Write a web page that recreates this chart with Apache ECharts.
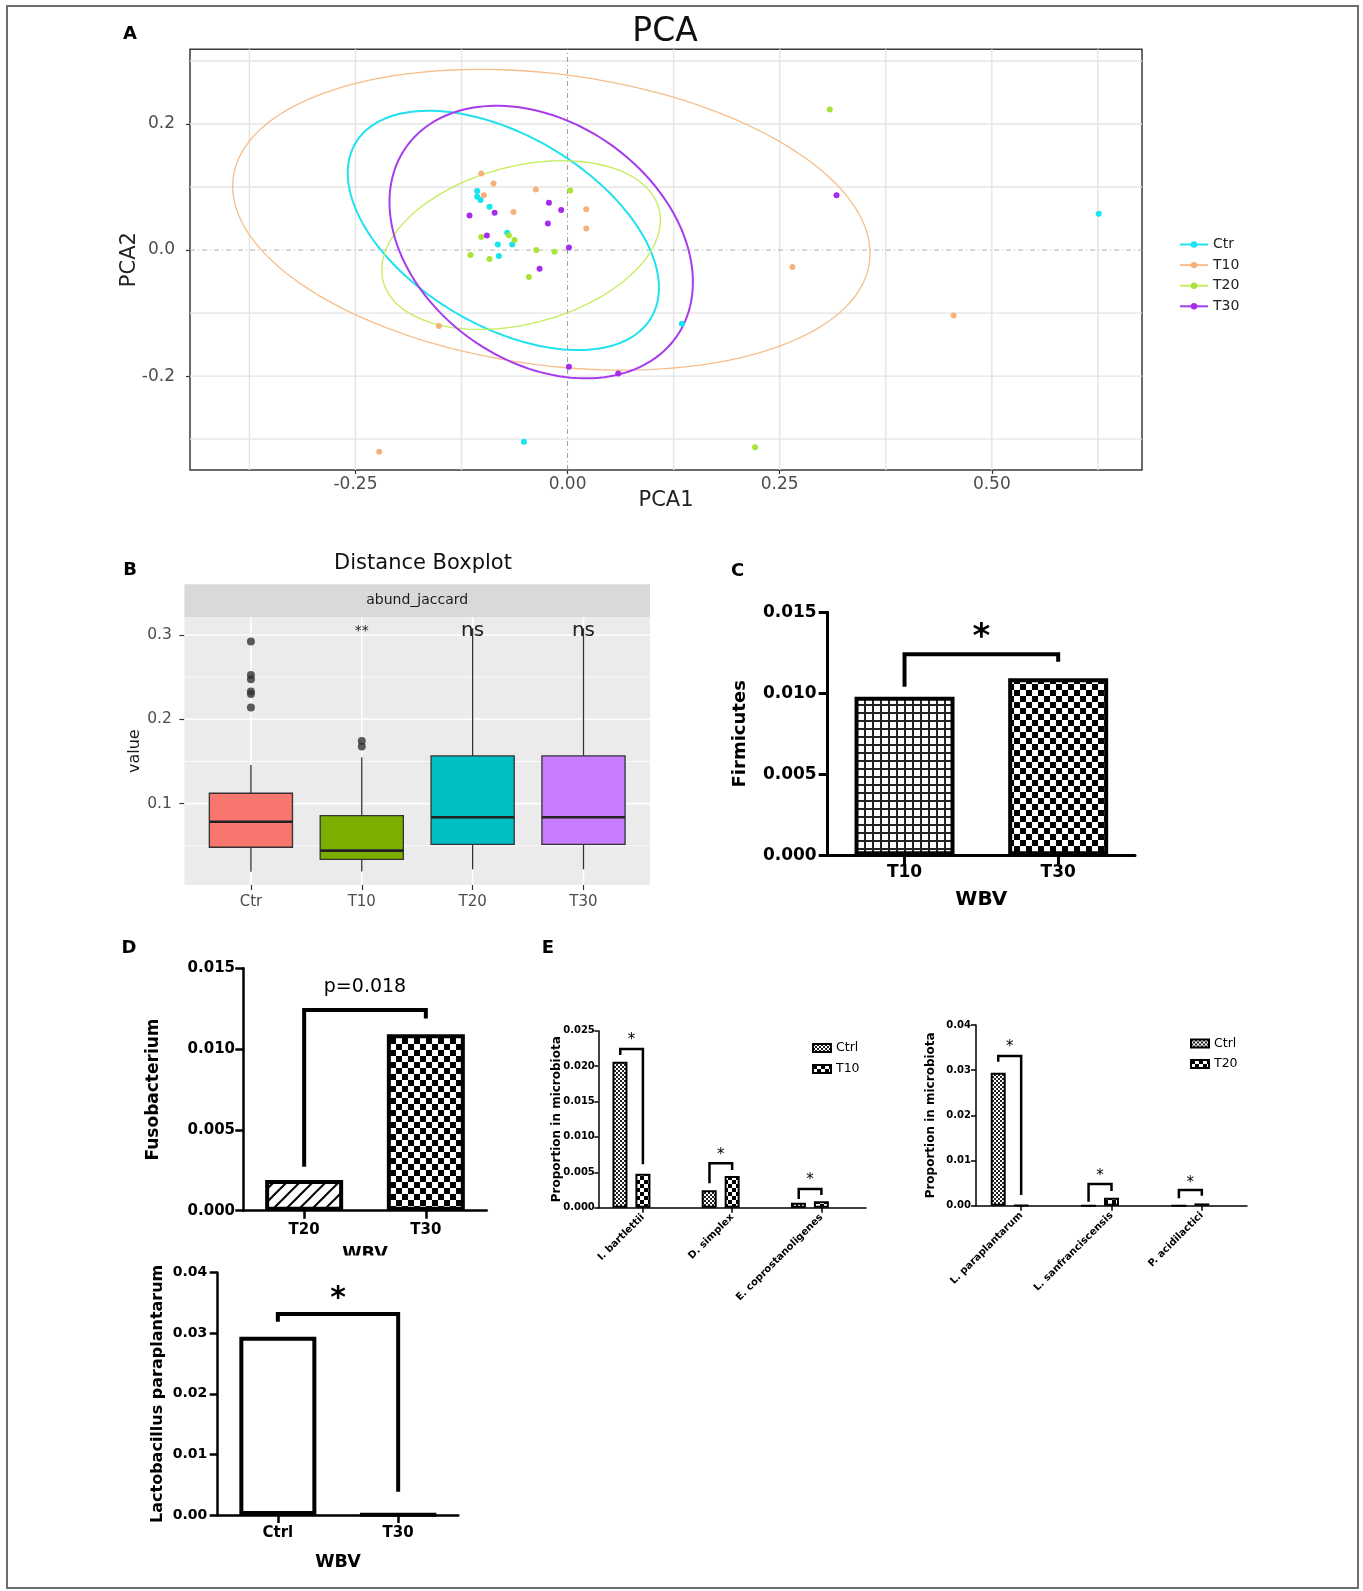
<!DOCTYPE html>
<html><head><meta charset="utf-8">
<script src="https://cdn.jsdelivr.net/npm/echarts@6/dist/echarts.min.js"></script>
<style>html,body{margin:0;padding:0;background:#fff}#chart{width:1363px;height:1591px}</style>
</head><body><div id="chart"></div>
<script>
// ================= DATA =================
// Panel A : PCA
const pcaGroups = ['Ctr', 'T10', 'T20', 'T30'];
const pcaCtr = [[-0.1065,0.0937],[-0.1065,0.0847],[-0.1026,0.0794],[-0.092,0.0688],[-0.0712,0.0275],[-0.0822,0.009],[-0.0652,0.009],[-0.081,-0.0095],[-0.0515,-0.304],[0.1347,-0.117],[0.626,0.0577]];
const pcaT10 = [[-0.1018,0.1217],[-0.0873,0.1058],[-0.0987,0.0868],[-0.0374,0.0963],[-0.0637,0.0603],[0.022,0.0646],[0.022,0.0344],[-0.1517,-0.1206],[-0.222,-0.32],[0.265,-0.027],[0.455,-0.104]];
const pcaT20 = [[0.0031,0.0947],[-0.1018,0.0206],[-0.0692,0.0233],[-0.0625,0.0159],[-0.0369,0.0],[-0.0153,-0.0026],[-0.1144,-0.0079],[-0.092,-0.0143],[-0.0456,-0.0429],[0.309,0.223],[0.221,-0.313]];
const pcaT30 = [[-0.022,0.0751],[-0.0075,0.0635],[-0.1156,0.055],[-0.086,0.0593],[-0.0232,0.0423],[-0.0951,0.0233],[0.0016,0.0042],[-0.033,-0.0296],[0.0016,-0.185],[0.0597,-0.196],[0.317,0.087]];
const pcaXRange = [-0.445, 0.677];
const pcaYRange = [-0.349, 0.3186];
const pcaXTicks = [-0.25, 0, 0.25, 0.5];
const pcaYTicks = [-0.2, 0, 0.2];
const pcaXGrid = [-0.375, -0.25, -0.125, 0.125, 0.25, 0.375, 0.5, 0.625];
const pcaYGrid = [-0.3, -0.2, -0.1, 0.1, 0.2, 0.3];
// confidence ellipses (center, half extents, correlation term) per group
const ellipseCx = [-0.0757, -0.0191, -0.0548, -0.0311];
const ellipseCy = [0.0312, 0.0481, 0.0079, 0.0127];
const ellipseHalfW = [0.1834, 0.3756, 0.1642, 0.1788];
const ellipseHalfH = [0.1899, 0.2386, 0.1338, 0.2163];
const ellipseCos = [-0.48, -0.2235, 0.2967, -0.2935];

// Panel B : Distance boxplot
const boxCats = ['Ctr', 'T10', 'T20', 'T30'];
const boxLow = [0.0193, 0.0194, 0.0221, 0.0221];
const boxQ1 = [0.0483, 0.034, 0.0518, 0.0518];
const boxMedian = [0.0786, 0.0443, 0.0838, 0.0838];
const boxQ3 = [0.1123, 0.0858, 0.1566, 0.1566];
const boxHigh = [0.1459, 0.155, 0.308, 0.308];
const boxOutliers = [[0,0.2922],[0,0.2527],[0,0.2476],[0,0.2329],[0,0.2301],[0,0.2139],[1,0.1744],[1,0.1677]];
const boxSignif = [[1, 0.3084, '**'], [2, 0.3028, 'ns'], [3, 0.3028, 'ns']];
const boxYRange = [0.0035, 0.321];
const boxYTicks = [0.1, 0.2, 0.3];
const boxYMinor = [0.05, 0.15, 0.25];

// Panel C : Firmicutes
const cCats = ['T10', 'T30'];
const cValues = [0.00979, 0.01093];
const cBrackets = [[0, 0.01041, 0.01241, 1, 0.01195]];
const cMarks = [[0.5, 0.0139, '*']];

// Panel D : Fusobacterium
const dCats = ['T20', 'T30'];
const dValues = [0.0019, 0.01092];
const dBrackets = [[0, 0.00272, 0.01242, 1, 0.0119]];
const dMarks = [[0.5, 0.01386, 'p=0.018']];

// Panel D (lower) : Lactobacillus paraplantarum
const lCats = ['Ctrl', 'T30'];
const lValues = [0.02943, 0.0001];
const lBrackets = [[0, 0.0319, 0.0332, 1, 0.00385]];
const lMarks = [[0.5, 0.03686, '*']];

// Panel E left
const eLeftCats = ['I. bartlettii', 'D. simplex', 'E. coprostanoligenes'];
const eLeftCtrl = [0.02062, 0.00246, 0.0007];
const eLeftT10 = [0.0048, 0.00448, 0.0009];
const eLeftBrackets = [[-0.254, 0.02157, 0.02242, 0, 0.00613], [0.746, 0.00345, 0.00627, 1, 0.00532], [1.746, 0.00123, 0.00264, 2, 0.00179]];
const eLeftMarks = [[-0.127, 0.02415, '*'], [0.873, 0.0079, '*'], [1.873, 0.00438, '*']];

// Panel E right
const eRightCats = ['L. paraplantarum', 'L. sanfranciscensis', 'P. acidilactici'];
const eRightCtrl = [0.02942, 0, 0];
const eRightT20 = [0.0001, 0.00177, 0.0005];
const eRightBrackets = [[-0.254, 0.03186, 0.03312, 0, 0.00237], [0.746, 0.00088, 0.0048, 1, 0.00325], [1.746, 0.00164, 0.00347, 2, 0.00221]];
const eRightMarks = [[-0.127, 0.03593, '*'], [0.873, 0.00739, '*'], [1.873, 0.0059, '*']];

// ================= STYLES / HELPERS =================
const FONT = 'DejaVu Sans';
const pcaColors = ['#16E4EE', '#F6B27C', '#A8E436', '#A52BEE'];
const ellipseColors = ['#1FE2EE', '#F5BE8C', '#C2EC5A', '#A63CEB'];
const ellipseWidths = [2, 1.3, 1.3, 2];
const boxColors = ['#F8766D', '#7CAE00', '#00BFC4', '#C77CFF'];

function makePattern(size, draw) {
  const c = document.createElement('canvas');
  c.width = size; c.height = size;
  const ctx = c.getContext('2d');
  ctx.fillStyle = '#fff'; ctx.fillRect(0, 0, size, size);
  ctx.fillStyle = '#000'; ctx.strokeStyle = '#000';
  draw(ctx, size);
  return { image: c, repeat: 'repeat' };
}
const gridPat = makePattern(8, (ctx) => { ctx.fillStyle = '#222'; ctx.fillRect(0, 0, 8, 2); ctx.fillRect(0, 0, 2, 8); });
const checkPat = makePattern(12, (ctx) => { ctx.fillRect(0, 0, 6, 6); ctx.fillRect(6, 6, 6, 6); });
const hatchPat = makePattern(13, (ctx) => {
  ctx.lineWidth = 2;
  ctx.beginPath(); ctx.moveTo(-1, 14); ctx.lineTo(14, -1); ctx.stroke();
  ctx.beginPath(); ctx.moveTo(-2, 2); ctx.lineTo(2, -2); ctx.stroke();
  ctx.beginPath(); ctx.moveTo(11, 15); ctx.lineTo(15, 11); ctx.stroke();
});
const fineDotPat = makePattern(4, (ctx) => { ctx.fillStyle = '#222'; ctx.fillRect(0, 0, 2, 2); ctx.fillRect(2, 2, 2, 2); });
const smallCheckPat = makePattern(8, (ctx) => { ctx.fillRect(0, 0, 4, 4); ctx.fillRect(4, 4, 4, 4); });

function ellipsePoints(k) {
  const pts = [];
  const phi = Math.acos(ellipseCos[k]);
  for (let j = 0; j <= 160; j++) {
    const t = 2 * Math.PI * j / 160;
    pts.push([ellipseCx[k] + ellipseHalfW[k] * Math.cos(t), ellipseCy[k] + ellipseHalfH[k] * Math.cos(t - phi)]);
  }
  return pts;
}
function segLine(ax, p1, p2, lineStyle, z) {
  return { type: 'line', xAxisIndex: ax, yAxisIndex: ax, data: [p1, p2], symbol: 'none', silent: true, z: z,
           lineStyle: lineStyle, animation: false, emphasis: { disabled: true } };
}
function bracketSeries(ax, list, lw) {
  return {
    type: 'custom', xAxisIndex: ax, yAxisIndex: ax, silent: true, z: 6, clip: false,
    data: list.map(b => [0, b[2]]),
    renderItem: (params, api) => {
      const b = list[params.dataIndex];
      const o = api.coord([0, 0]);
      const unit = api.size([1, 0], [0, 0])[0];
      const xL = o[0] + b[0] * unit, xR = o[0] + b[3] * unit;
      const yL = api.coord([0, b[1]])[1], yT = api.coord([0, b[2]])[1], yR = api.coord([0, b[4]])[1];
      return { type: 'polyline', shape: { points: [[xL, yL], [xL, yT], [xR, yT], [xR, yR]] },
               style: { stroke: '#000', lineWidth: lw, fill: null, lineJoin: 'miter', lineCap: 'butt' } };
    }
  };
}
function textSeries(ax, list, size, weight, color) {
  return {
    type: 'custom', xAxisIndex: ax, yAxisIndex: ax, silent: true, z: 7, clip: false,
    data: list.map(m => [0, m[1]]),
    renderItem: (params, api) => {
      const m = list[params.dataIndex];
      const o = api.coord([0, m[1]]);
      const unit = api.size([1, 0], [0, m[1]])[0];
      const shift = /^\*+$/.test(m[2]) ? 0.25 : (/^[a-z]+$/.test(m[2]) ? -0.08 : 0);
      return { type: 'text', x: o[0] + m[0] * unit, y: o[1] + shift * size,
               style: { text: m[2], fontSize: size, fontWeight: weight, fontFamily: FONT, fill: color || '#000',
                        align: 'center', verticalAlign: 'middle', textAlign: 'center', textVerticalAlign: 'middle' } };
    }
  };
}
function gpYAxis(gi, max, interval, dec, lw, tickLen, fs, margin, name, nameSize, nameGap) {
  return { gridIndex: gi, type: 'value', min: 0, max: max, interval: interval,
    axisLine: { show: true, onZero: false, lineStyle: { color: '#000', width: lw } },
    axisTick: { show: true, length: tickLen, lineStyle: { color: '#000', width: lw } },
    axisLabel: { fontSize: fs, fontWeight: 'bold', color: '#000', fontFamily: FONT, margin: margin, formatter: v => v.toFixed(dec) },
    splitLine: { show: false },
    name: name, nameLocation: 'middle', nameGap: nameGap, nameMoveOverlap: false,
    nameTextStyle: { fontSize: nameSize, fontWeight: 'bold', color: '#000', fontFamily: FONT } };
}
function gpXAxis(gi, cats, lw, tickLen, fs, margin, name, nameSize, nameGap, rotate) {
  const ax = { gridIndex: gi, type: 'category', data: cats,
    axisLine: { show: true, onZero: false, lineStyle: { color: '#000', width: lw } },
    axisTick: { show: true, alignWithLabel: true, length: tickLen, lineStyle: { color: '#000', width: lw } },
    axisLabel: { fontSize: fs, fontWeight: 'bold', color: '#000', fontFamily: FONT, margin: margin, interval: 0, rotate: rotate || 0 },
    splitLine: { show: false } };
  if (name) {
    ax.name = name; ax.nameLocation = 'middle'; ax.nameGap = nameGap; ax.nameMoveOverlap = false;
    ax.nameTextStyle = { fontSize: nameSize, fontWeight: 'bold', color: '#000', fontFamily: FONT };
  }
  return ax;
}
function gtext(text, x, y, size, weight, color, z) {
  return { type: 'text', x: x, y: y, z: z || 10, silent: true,
    style: { text: text, fontSize: size, fontWeight: weight || 'normal', fontFamily: FONT, fill: color || '#000',
             align: 'center', verticalAlign: 'middle', textAlign: 'center', textVerticalAlign: 'middle' } };
}

// ================= OPTION =================
const pcaPoints = [pcaCtr, pcaT10, pcaT20, pcaT30];
const series = [];

// --- A: gridlines
pcaXGrid.forEach(x => series.push(segLine(0, [x, pcaYRange[0]], [x, pcaYRange[1]], { color: '#e4e4e4', width: 1.4 }, 1)));
pcaYGrid.forEach(y => series.push(segLine(0, [pcaXRange[0], y], [pcaXRange[1], y], { color: '#e4e4e4', width: 1.4 }, 1)));
series.push(segLine(0, [0, pcaYRange[0]], [0, pcaYRange[1]], { color: '#9a9a9a', width: 1, type: [5, 3, 1, 3] }, 1));
series.push(segLine(0, [pcaXRange[0], 0], [pcaXRange[1], 0], { color: '#b0b0b0', width: 1, type: [5, 3, 1, 3] }, 1));
// --- A: ellipses (first, so legend shows line + dot)
pcaGroups.forEach((g, k) => series.push({
  type: 'line', name: g, xAxisIndex: 0, yAxisIndex: 0, data: ellipsePoints(k), showSymbol: false,
  symbol: 'circle', symbolSize: 6, smooth: false, silent: true, z: 2, animation: false,
  itemStyle: { color: pcaColors[k] }, lineStyle: { color: ellipseColors[k], width: ellipseWidths[k] },
  emphasis: { disabled: true }
}));
// --- A: points
pcaGroups.forEach((g, k) => series.push({
  type: 'scatter', name: g, xAxisIndex: 0, yAxisIndex: 0, data: pcaPoints[k], symbolSize: 6,
  itemStyle: { color: pcaColors[k], opacity: 1 }, z: 3, silent: true, animation: false
}));

// --- B: gridlines
[0, 1, 2, 3].forEach(i => series.push(segLine(1, [i, boxYRange[0]], [i, boxYRange[1]], { color: '#fff', width: 1.6 }, 1)));
boxYTicks.forEach(v => series.push(segLine(1, [-0.6, v], [3.6, v], { color: '#fff', width: 1.6 }, 1)));
boxYMinor.forEach(v => series.push(segLine(1, [-0.6, v], [3.6, v], { color: '#fff', width: 0.8 }, 1)));
// --- B: boxes
series.push({
  type: 'custom', xAxisIndex: 1, yAxisIndex: 1, silent: true, z: 3, animation: false,
  data: boxCats.map((c, i) => [i, boxLow[i], boxQ1[i], boxMedian[i], boxQ3[i], boxHigh[i]]),
  encode: { x: 0, y: [1, 2, 3, 4, 5] },
  renderItem: (params, api) => {
    const i = api.value(0);
    const x = api.coord([i, api.value(3)])[0];
    const half = api.size([0.75, 0], [i, api.value(3)])[0] / 2;
    const y = k => api.coord([i, api.value(k)])[1];
    const yL = y(1), y1 = y(2), yM = y(3), y3 = y(4), yH = y(5);
    const ls = { stroke: '#333', lineWidth: 1.3 };
    return { type: 'group', children: [
      { type: 'line', shape: { x1: x, y1: yL, x2: x, y2: y1 }, style: ls },
      { type: 'line', shape: { x1: x, y1: y3, x2: x, y2: yH }, style: ls },
      { type: 'rect', shape: { x: x - half, y: y3, width: 2 * half, height: y1 - y3 }, style: { fill: boxColors[i], stroke: '#333', lineWidth: 1.3 } },
      { type: 'line', shape: { x1: x - half, y1: yM, x2: x + half, y2: yM }, style: { stroke: '#222', lineWidth: 2.6 } }
    ] };
  }
});
series.push({ type: 'scatter', xAxisIndex: 1, yAxisIndex: 1, data: boxOutliers, symbolSize: 8,
  itemStyle: { color: '#333' }, z: 4, silent: true, animation: false });
series.push(textSeries(1, boxSignif.filter(m => m[2] === '**'), 14, 'normal', '#222'));
series.push(textSeries(1, boxSignif.filter(m => m[2] !== '**'), 20, 'normal', '#222'));

// --- C
const cFills = [gridPat, checkPat];
series.push({ type: 'bar', xAxisIndex: 2, yAxisIndex: 2, barWidth: 100, silent: true, animation: false, z: 3,
  data: cValues.map((v, i) => ({ value: v, itemStyle: { color: cFills[i], borderColor: '#000', borderWidth: 4 } })) });
series.push(bracketSeries(2, cBrackets, 4));
series.push(textSeries(2, cMarks, 34, 'bold'));

// --- D
const dFills = [hatchPat, checkPat];
series.push({ type: 'bar', xAxisIndex: 3, yAxisIndex: 3, barWidth: 78, silent: true, animation: false, z: 3,
  data: dValues.map((v, i) => ({ value: v, itemStyle: { color: dFills[i], borderColor: '#000', borderWidth: 4 } })) });
series.push(bracketSeries(3, dBrackets, 4));
series.push(textSeries(3, dMarks, 19, 'normal'));

// --- D lower
series.push({ type: 'bar', xAxisIndex: 4, yAxisIndex: 4, barWidth: 77, silent: true, animation: false, z: 3,
  data: lValues.map(v => ({ value: v, itemStyle: { color: '#fff', borderColor: '#000', borderWidth: 4 } })) });
series.push(bracketSeries(4, lBrackets, 4));
series.push(textSeries(4, lMarks, 30, 'bold'));

// --- E left
series.push({ type: 'bar', name: 'EL Ctrl', xAxisIndex: 5, yAxisIndex: 5, barWidth: 15, barGap: '53%', data: eLeftCtrl,
  itemStyle: { color: fineDotPat, borderColor: '#000', borderWidth: 2 }, silent: true, animation: false, z: 3 });
series.push({ type: 'bar', name: 'EL T10', xAxisIndex: 5, yAxisIndex: 5, barWidth: 15, barGap: '53%', data: eLeftT10,
  itemStyle: { color: smallCheckPat, borderColor: '#000', borderWidth: 2 }, silent: true, animation: false, z: 3 });
series.push({ type: 'bar', name: 'EL spacer', xAxisIndex: 5, yAxisIndex: 5, barWidth: 15, barGap: '53%', data: eLeftCats.map(() => 0),
  itemStyle: { color: 'rgba(0,0,0,0)', borderWidth: 0 }, silent: true, animation: false, z: 3 });
series.push(bracketSeries(5, eLeftBrackets, 2.5));
series.push(textSeries(5, eLeftMarks, 15, 'normal'));

// --- E right
series.push({ type: 'bar', name: 'ER Ctrl', xAxisIndex: 6, yAxisIndex: 6, barWidth: 15, barGap: '53%', data: eRightCtrl,
  itemStyle: { color: fineDotPat, borderColor: '#000', borderWidth: 2 }, silent: true, animation: false, z: 3 });
series.push({ type: 'bar', name: 'ER T20', xAxisIndex: 6, yAxisIndex: 6, barWidth: 15, barGap: '53%', data: eRightT20,
  itemStyle: { color: smallCheckPat, borderColor: '#000', borderWidth: 2 }, silent: true, animation: false, z: 3 });
series.push({ type: 'bar', name: 'ER spacer', xAxisIndex: 6, yAxisIndex: 6, barWidth: 15, barGap: '53%', data: eRightCats.map(() => 0),
  itemStyle: { color: 'rgba(0,0,0,0)', borderWidth: 0 }, silent: true, animation: false, z: 3 });
series.push(bracketSeries(6, eRightBrackets, 2.5));
series.push(textSeries(6, eRightMarks, 15, 'normal'));

const option = {
  animation: false,
  textStyle: { fontFamily: FONT },
  grid: [
    { left: 190, top: 49.3, width: 952, height: 420.7, show: true, borderColor: '#3a3a3a', borderWidth: 1.5, backgroundColor: '#fff', outerBoundsMode: 'none', containLabel: false },
    { left: 184.4, top: 617.3, width: 465.6, height: 267.7, show: true, borderWidth: 0, backgroundColor: '#ebebeb', outerBoundsMode: 'none', containLabel: false },
    { left: 827.7, top: 612.3, width: 307.3, height: 243, outerBoundsMode: 'none', containLabel: false },
    { left: 243.3, top: 968.3, width: 243.4, height: 242.4, outerBoundsMode: 'none', containLabel: false },
    { left: 217.7, top: 1272.7, width: 240.6, height: 242.3, outerBoundsMode: 'none', containLabel: false },
    { left: 598.3, top: 1030.7, width: 267.7, height: 177, outerBoundsMode: 'none', containLabel: false },
    { left: 976, top: 1025, width: 271, height: 180.7, outerBoundsMode: 'none', containLabel: false }
  ],
  xAxis: [
    { gridIndex: 0, type: 'value', min: pcaXRange[0], max: pcaXRange[1],
      axisLine: { show: false, onZero: false }, splitLine: { show: false },
      axisTick: { show: true, customValues: pcaXTicks, length: 4, lineStyle: { color: '#333', width: 1.2 } },
      axisLabel: { customValues: pcaXTicks, formatter: v => v.toFixed(2), fontSize: 17, color: '#4d4d4d', margin: 6 },
      name: 'PCA1', nameLocation: 'middle', nameGap: 20, nameMoveOverlap: false, nameTextStyle: { fontSize: 21, color: '#222' } },
    { gridIndex: 1, type: 'value', min: -0.6, max: 3.6,
      axisLine: { show: false, onZero: false }, splitLine: { show: false },
      axisTick: { show: true, customValues: [0, 1, 2, 3], length: 5, lineStyle: { color: '#333', width: 1.2 } },
      axisLabel: { customValues: [0, 1, 2, 3], formatter: v => boxCats[Math.round(v)], fontSize: 15, color: '#4d4d4d', margin: 9.2 } },
    gpXAxis(2, cCats, 3, 9, 17, 9.2, 'WBV', 20, 34.7),
    gpXAxis(3, dCats, 2.5, 8, 15, 11.8, 'WBV', 17.5, 34.3),
    gpXAxis(4, lCats, 2.5, 8, 15, 10.5, 'WBV', 17.5, 38),
    gpXAxis(5, eLeftCats, 1.5, 5, 10, 8, null, 0, 0, 45),
    gpXAxis(6, eRightCats, 1.5, 5, 10, 8, null, 0, 0, 45)
  ],
  yAxis: [
    { gridIndex: 0, type: 'value', min: pcaYRange[0], max: pcaYRange[1],
      axisLine: { show: false, onZero: false }, splitLine: { show: false },
      axisTick: { show: true, customValues: pcaYTicks, length: 4, lineStyle: { color: '#333', width: 1.2 } },
      axisLabel: { customValues: pcaYTicks, formatter: v => v.toFixed(1), fontSize: 17, color: '#4d4d4d', margin: 15 },
      name: 'PCA2', nameLocation: 'middle', nameGap: 49.5, nameMoveOverlap: false, nameTextStyle: { fontSize: 21, color: '#222' } },
    { gridIndex: 1, type: 'value', min: boxYRange[0], max: boxYRange[1],
      axisLine: { show: false, onZero: false }, splitLine: { show: false },
      axisTick: { show: true, customValues: boxYTicks, length: 5, lineStyle: { color: '#333', width: 1.2 } },
      axisLabel: { customValues: boxYTicks, formatter: v => v.toFixed(1), fontSize: 15.5, color: '#4d4d4d', margin: 12.6 },
      name: 'value', nameLocation: 'middle', nameGap: 41.6, nameMoveOverlap: false, nameTextStyle: { fontSize: 16, color: '#1a1a1a' } },
    gpYAxis(2, 0.015, 0.005, 3, 3, 9, 17, 11, 'Firmicutes', 18, 78.7),
    gpYAxis(3, 0.015, 0.005, 3, 2.5, 8, 15, 8.3, 'Fusobacterium', 17, 81.5),
    gpYAxis(4, 0.04, 0.01, 2, 2.5, 8, 14, 10.4, 'Lactobacillus paraplantarum', 16, 51.4),
    gpYAxis(5, 0.025, 0.005, 3, 1.5, 4, 10, 3.5, 'Proportion in microbiota', 12, 35.6),
    gpYAxis(6, 0.04, 0.01, 2, 1.5, 5, 10, 5, 'Proportion in microbiota', 12, 39)
  ],
  legend: [
    { data: pcaGroups, orient: 'vertical', left: 1174, top: 232.5, itemWidth: 28, itemHeight: 8, itemGap: 6.6,
      selectedMode: false, textStyle: { fontSize: 14, color: '#222', fontFamily: FONT } },
    { data: ['EL Ctrl', 'EL T10'], orient: 'vertical', left: 807, top: 1036.5, itemWidth: 18, itemHeight: 8, itemGap: 8,
      icon: 'rect', selectedMode: false, formatter: n => n.split(' ')[1], textStyle: { fontSize: 12.5, color: '#000', fontFamily: FONT } },
    { data: ['ER Ctrl', 'ER T20'], orient: 'vertical', left: 1185, top: 1032, itemWidth: 18, itemHeight: 8, itemGap: 7.5,
      icon: 'rect', selectedMode: false, formatter: n => n.split(' ')[1], textStyle: { fontSize: 12.5, color: '#000', fontFamily: FONT } }
  ],
  graphic: [
    { type: 'rect', z: 0, silent: true, shape: { x: 7, y: 6, width: 1351, height: 1582 }, style: { fill: null, stroke: '#6e6e6e', lineWidth: 2 } },
    gtext('A', 130, 34.5, 18, 'bold'),
    gtext('PCA', 665, 32.5, 33, 'normal', '#111'),
    gtext('B', 130, 570, 18, 'bold'),
    gtext('Distance Boxplot', 423, 564, 21, 'normal', '#111'),
    { type: 'rect', z: 1, silent: true, shape: { x: 184.4, y: 584.3, width: 465.6, height: 33 }, style: { fill: '#d9d9d9' } },
    gtext('abund_jaccard', 417.2, 600.8, 14, 'normal', '#1a1a1a', 2),
    gtext('C', 737.5, 571.7, 18, 'bold'),
    gtext('D', 129, 948, 18, 'bold'),
    gtext('E', 548, 948, 18, 'bold'),
    { type: 'rect', z: 100, silent: true, shape: { x: 320, y: 1255.5, width: 95, height: 12 }, style: { fill: '#fff' } }
  ],
  series: series
};
const chart = echarts.init(document.getElementById('chart'), null, { renderer: 'canvas', width: 1363, height: 1591 });
chart.setOption(option);
</script>
</body></html>
